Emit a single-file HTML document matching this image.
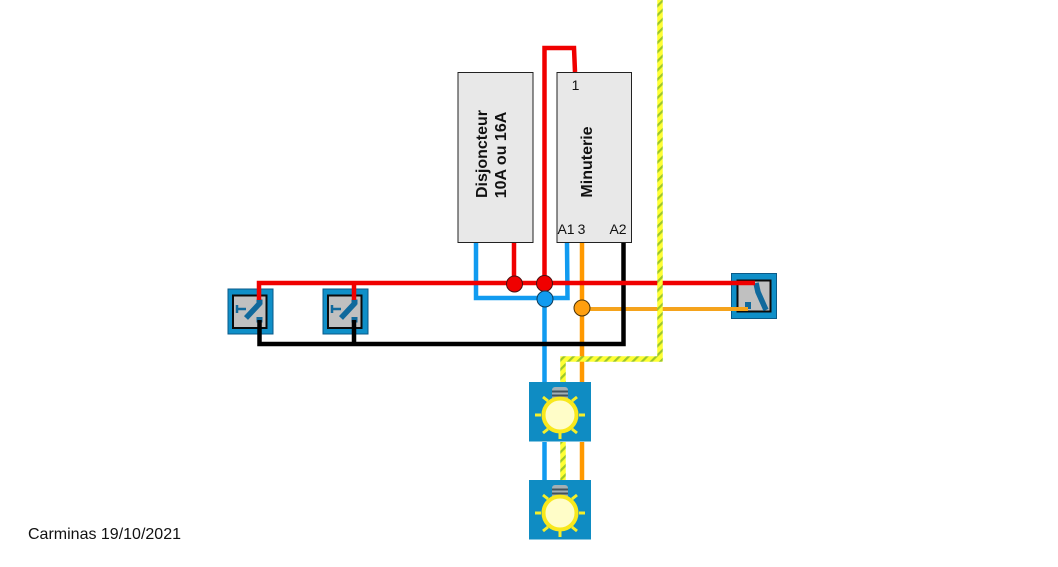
<!DOCTYPE html>
<html>
<head>
<meta charset="utf-8">
<style>
html,body{margin:0;padding:0;background:#fff;}
svg{display:block;}
text{font-family:"Liberation Sans",sans-serif;fill:#111;}
</style>
</head>
<body>
<svg width="1058" height="567" viewBox="0 0 1058 567" xmlns="http://www.w3.org/2000/svg">
<defs>
<pattern id="ye" width="6.5" height="6.5" patternUnits="userSpaceOnUse" patternTransform="rotate(45)">
<rect width="6.5" height="6.5" fill="#ffff33"/>
<rect width="2.2" height="6.5" fill="#9cc72a"/>
</pattern>
<g id="sw">
<rect x="0.5" y="0.5" width="45" height="45" fill="#0f8fc8" stroke="#0a5a88"/>
<rect x="5.5" y="7" width="33.500" height="32.500" fill="#c0c0c0" stroke="#0b0b0b" stroke-width="2"/>
<path d="M9.500 16.500V24.500M9.500 20.500H18.500" stroke="#10699c" stroke-width="2.500" fill="none"/>
<path d="M18.500 29.500L32.500 14.500" stroke="#10699c" stroke-width="5.500" fill="none"/>
<rect x="29" y="11" width="6" height="5" fill="#10699c"/>
<rect x="29" y="28.500" width="6" height="5.500" fill="#10699c"/>
</g>
<g id="lamp">
<rect x="0" y="0" width="62" height="59.500" fill="#0f8cc3"/>
<g stroke="#f5ee2a" stroke-width="3">
<path d="M31 51V57"/>
<path d="M6 33H12M50 33H56"/>
<path d="M14 15L19 19M48 15L43 19M14 51L19 47M48 51L43 47"/>
</g>
<rect x="23" y="5" width="16" height="13" rx="3" fill="#a3b0b5"/>
<path d="M23 9.500H39M23 13.500H39" stroke="#44535c" stroke-width="2"/>
<circle cx="31" cy="33" r="16.500" fill="#fffdc8" stroke="#f8e81c" stroke-width="4"/>
</g>
</defs>

<!-- boxes -->
<rect x="458" y="72.500" width="75" height="170" fill="#e8e8e8" stroke="#222" stroke-width="1"/>
<rect x="557" y="72.500" width="74.500" height="170" fill="#e8e8e8" stroke="#222" stroke-width="1"/>

<!-- switches -->
<use href="#sw" x="227.500" y="288.500"/>
<use href="#sw" x="322.500" y="288.500"/>
<g transform="translate(731,273)">
<rect x="0.5" y="0.5" width="45" height="45" fill="#0f8fc8" stroke="#0a5a88"/>
<rect x="6.500" y="7.500" width="33" height="31" fill="#c0c0c0" stroke="#0b0b0b" stroke-width="2"/>
<path d="M25 10L27 19L35 37" stroke="#10699c" stroke-width="5.500" fill="none"/>
<rect x="14" y="29" width="6" height="7" fill="#10699c"/>
</g>

<!-- lamps -->
<use href="#lamp" x="529" y="382"/>
<use href="#lamp" x="529" y="480"/>

<!-- wires -->
<g fill="none" stroke-linejoin="miter">
<path d="M476 243V298H567.500L567 243" stroke="#119bf0" stroke-width="4.500"/>
<path d="M544.500 299V382M544.500 442V480" stroke="#119bf0" stroke-width="4.500"/>
<path d="M582 243V382M582 442V480" stroke="#ff9900" stroke-width="4.500"/>
<path d="M582 309H748" stroke="#f5a31c" stroke-width="4"/>
<path d="M623.500 243V344H259.500V320M354 344V320" stroke="#000" stroke-width="4.500"/>
<path d="M514 243V283" stroke="#f00000" stroke-width="4.500"/>
<path d="M544.500 283V48H574L575 72" stroke="#f00000" stroke-width="4.500"/>
<path d="M755 283H259V300M354 283V300" stroke="#f00000" stroke-width="4.500"/>
<path d="M660 0V359H563V382M563 442V480" stroke="url(#ye)" stroke-width="5.500"/>
</g>

<!-- junctions -->
<circle cx="514.500" cy="284" r="8" fill="#f00000" stroke="#4a1010"/>
<circle cx="544.500" cy="283.500" r="8" fill="#f00000" stroke="#4a1010"/>
<circle cx="545" cy="299" r="8" fill="#119bf0" stroke="#103a55"/>
<circle cx="582" cy="308" r="8" fill="#ff9f0f" stroke="#4a3208"/>

<!-- labels -->
<text transform="translate(487,154) rotate(-90)" text-anchor="middle" font-size="16" font-weight="bold">Disjoncteur</text>
<text transform="translate(506,155) rotate(-90)" text-anchor="middle" font-size="16" font-weight="bold">10A ou 16A</text>
<text transform="translate(592,162) rotate(-90)" text-anchor="middle" font-size="16" font-weight="bold">Minuterie</text>
<text x="575.500" y="90" text-anchor="middle" font-size="14">1</text>
<text x="566" y="234" text-anchor="middle" font-size="14">A1</text>
<text x="581.500" y="234" text-anchor="middle" font-size="14">3</text>
<text x="618" y="234" text-anchor="middle" font-size="14">A2</text>
<text x="28" y="539" font-size="16">Carminas 19/10/2021</text>
</svg>
</body>
</html>
